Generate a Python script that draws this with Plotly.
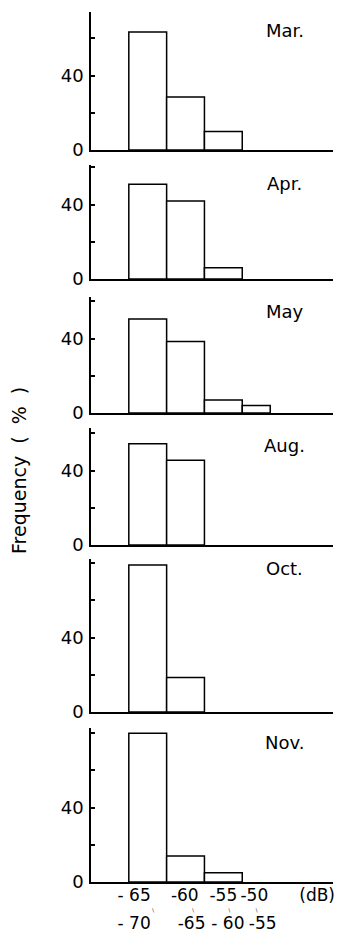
import plotly.graph_objects as go

# ---- data ----
months = ["Mar.", "Apr.", "May", "Aug.", "Oct.", "Nov."]
bin_left = [-70, -65, -60, -55]          # dB, left edge of each class
bin_width = [5, 5, 5, 5]
may_width = [5, 5, 5, 3.7]
freq_mar = [63.5, 28.5, 10]
freq_apr = [51, 42, 6]
freq_may = [50.5, 38.5, 7, 4]
freq_aug = [54.5, 45.5]
freq_oct = [79, 18.5]
freq_nov = [80, 14, 5]
series = [freq_mar, freq_apr, freq_may, freq_aug, freq_oct, freq_nov]
widths = [bin_width, bin_width, may_width, bin_width, bin_width, bin_width]

y_tick_vals = [0, 20, 40, 60, 80]
y_tick_text = ["0", "", "40", "", ""]
row1_vals = [-69.3, -62.6, -57.5, -53.4, -45.1]
row1_text = ["- 65", "-60", "-55", "-50", "(dB)"]
row2_vals = [-69.3, -61.7, -56.9, -52.3]
row2_text = ["- 70", "-65", "- 60", "-55"]
mark_vals = [-66.8, -61.5, -56.7, -53.1]
mark_text = ["\\", "\\", "\\", "\\"]

# ---- layout constants ----
W, H = 345, 933
panel_px = [(12, 150), (165, 279), (297, 413), (428, 545), (559, 712), (728, 882)]
x_px = (91, 333)
scale = 1.86  # px per %
month_dy = [19, 18, 15, 17, 9, 14]
FONT = "DejaVu Sans"
YTICK = 18
XTICK = 17

def sfx(i):
    return "" if i == 1 else str(i)

fig = go.Figure()
layout = dict(
    width=W, height=H, margin=dict(l=0, r=0, t=0, b=0, autoexpand=False),
    paper_bgcolor="white", plot_bgcolor="white",
    font=dict(family=FONT, size=16, color="black"),
    showlegend=False, annotations=[],
)

xdom = [x_px[0] / W, x_px[1] / W]
for i, (vals, wid) in enumerate(zip(series, widths), start=1):
    n = len(vals)
    s = sfx(i)
    fig.add_trace(go.Bar(
        x=bin_left[:n], y=vals, width=wid[:n], offset=0,
        marker=dict(color="white", line=dict(color="black", width=1.5)),
        xaxis=f"x{s}", yaxis=f"y{s}", hoverinfo="skip",
    ))
    top, base = panel_px[i - 1]
    xa = dict(domain=xdom, range=[-75, -43], anchor=f"y{s}", automargin=False,
              showline=True, linecolor="black", linewidth=1.5, tickangle=0,
              showgrid=False, zeroline=False, ticks="", showticklabels=False)
    if i == 6:
        xa.update(showticklabels=True, tickvals=row1_vals, ticktext=row1_text,
                  tickfont=dict(size=XTICK), ticklabelstandoff=-3)
    layout[f"xaxis{s}"] = xa
    layout[f"yaxis{s}"] = dict(
        domain=[1 - base / H, 1 - top / H], range=[0, (base - top) / scale],
        anchor=f"x{s}", automargin=False, showline=True, linecolor="black",
        linewidth=1.5, showgrid=False, zeroline=False, ticks="inside", ticklen=4,
        tickwidth=1.5, tickcolor="black", tickvals=y_tick_vals,
        ticktext=y_tick_text, tickfont=dict(size=YTICK), ticklabelstandoff=2,
    )
    layout["annotations"].append(dict(
        text=months[i - 1], xref=f"x{s} domain", yref=f"y{s} domain",
        x=0.8, y=1, xanchor="center", yanchor="middle",
        yshift=-month_dy[i - 1], showarrow=False, font=dict(size=18),
    ))

# second row of class-limit labels and the little connecting marks
fig.add_trace(go.Scatter(x=[], y=[], xaxis="x7", yaxis="y6"))
fig.add_trace(go.Scatter(x=[], y=[], xaxis="x8", yaxis="y6"))
layout["xaxis7"] = dict(domain=xdom, range=[-75, -43], anchor="y6", overlaying="x6",
                        automargin=False, showline=False, showgrid=False,
                        zeroline=False, ticks="", tickangle=0,
                        tickvals=row2_vals, ticktext=row2_text,
                        tickfont=dict(size=XTICK), ticklabelstandoff=29)
layout["xaxis8"] = dict(domain=xdom, range=[-75, -43], anchor="y6", overlaying="x6",
                        automargin=False, showline=False, showgrid=False,
                        zeroline=False, ticks="", tickangle=0,
                        tickvals=mark_vals, ticktext=mark_text,
                        tickfont=dict(size=5), ticklabelstandoff=24)

layout["annotations"].append(dict(
    text="Frequency  (  %  )", xref="paper", yref="paper",
    x=19 / W, y=1 - 471 / H, xanchor="center", yanchor="middle",
    textangle=-90, showarrow=False, font=dict(size=19),
))

fig.update_layout(**layout)
fig.write_html("out.html")
